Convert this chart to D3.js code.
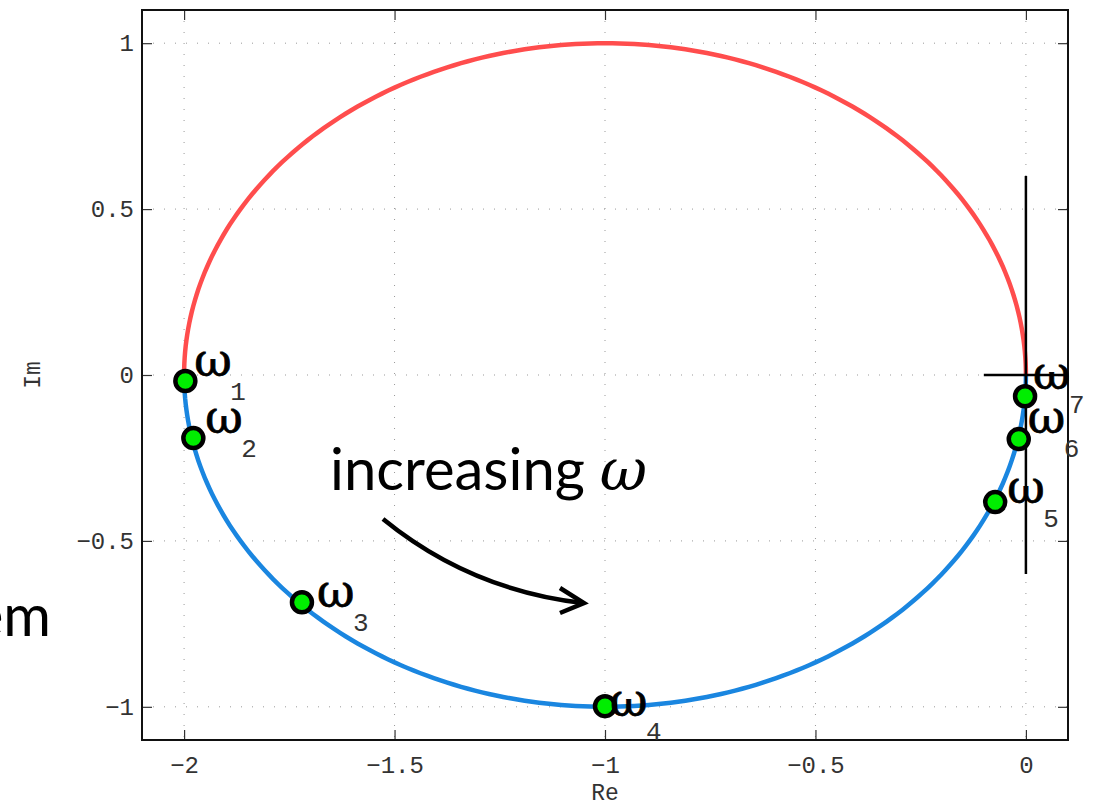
<!DOCTYPE html>
<html>
<head>
<meta charset="utf-8">
<script src="https://cdn.jsdelivr.net/npm/d3@7"></script>
<style>
  body { margin: 0; background: #fff; }
  svg { display: block; }
</style>
</head>
<body>
<div id="chart"></div>
<script>
// chart values
var xTicks = [-2, -1.5, -1, -0.5, 0];
var yTicks = [-1, -0.5, 0, 0.5, 1];
var xTickLabels = ["\u22122", "\u22121.5", "\u22121", "\u22120.5", "0"];
var yTickLabels = ["\u22121", "\u22120.5", "0", "0.5", "1"];

// frequency points on the Nyquist curve
var pointNames = ["1", "2", "3", "4", "5", "6", "7"];
var pointRe = [-1.997, -1.978, -1.72, -1.0, -0.073, -0.017, -0.002];
var pointIm = [-0.018, -0.19, -0.685, -0.998, -0.383, -0.193, -0.064];

// circle: centre -1, radius 1
var circleCenter = -1;
var circleRadius = 1;

var svgWidth = 1102;
var svgHeight = 809;

var margin = { top: 10, right: 34, bottom: 69, left: 142 };
var width = svgWidth - margin.left - margin.right;
var height = svgHeight - margin.top - margin.bottom;

// label placement relative to each point (pixels): omega and subscript
var labelOffsets = [
    { dx: 9, dy: -5 },
    { dx: 12, dy: -5 },
    { dx: 15, dy: 5 },
    { dx: 5, dy: 10 },
    { dx: 12, dy: 1 },
    { dx: 9, dy: -6 },
    { dx: 8, dy: -7 }
];

var svg = d3.select("#chart")
    .append("svg")
    .attr("width", svgWidth)
    .attr("height", svgHeight);

var chartGroup = svg.append("g")
    .attr("transform", `translate(${margin.left}, ${margin.top})`);

var xScale = d3.scaleLinear()
    .domain([-2.1, 0.1])
    .range([0, width]);

var yScale = d3.scaleLinear()
    .domain([-1.1, 1.1])
    .range([height, 0]);

var monoFont = "'Liberation Mono', 'DejaVu Sans Mono', monospace";

// grid
var grid = chartGroup.append("g");
grid.selectAll(".vgrid")
    .data(xTicks)
    .enter()
    .append("line")
    .attr("x1", d => xScale(d))
    .attr("x2", d => xScale(d))
    .attr("y1", 0)
    .attr("y2", height)
    .attr("stroke", "#999")
    .attr("stroke-width", 1)
    .attr("stroke-dasharray", "1,10");
grid.selectAll(".hgrid")
    .data(yTicks)
    .enter()
    .append("line")
    .attr("x1", 0)
    .attr("x2", width)
    .attr("y1", d => yScale(d))
    .attr("y2", d => yScale(d))
    .attr("stroke", "#999")
    .attr("stroke-width", 1)
    .attr("stroke-dasharray", "1,10");

// axes (ticks inward on all sides)
var bottomAxis = d3.axisBottom(xScale).tickValues(xTicks).tickSizeInner(-10).tickSizeOuter(0)
    .tickFormat((d, i) => xTickLabels[i]).tickPadding(16);
var leftAxis = d3.axisLeft(yScale).tickValues(yTicks).tickSizeInner(-10).tickSizeOuter(0)
    .tickFormat((d, i) => yTickLabels[i]).tickPadding(8);
var topAxis = d3.axisTop(xScale).tickValues(xTicks).tickSizeInner(-10).tickSizeOuter(0).tickFormat("");
var rightAxis = d3.axisRight(yScale).tickValues(yTicks).tickSizeInner(-10).tickSizeOuter(0).tickFormat("");

var axes = [
    chartGroup.append("g").attr("transform", `translate(0, ${height})`).call(bottomAxis),
    chartGroup.append("g").call(leftAxis),
    chartGroup.append("g").call(topAxis),
    chartGroup.append("g").attr("transform", `translate(${width}, 0)`).call(rightAxis)
];
axes.forEach(function (a) {
    a.select(".domain").remove();
    a.selectAll(".tick line").attr("stroke", "#333").attr("stroke-width", 1.2);
    a.selectAll("text")
        .style("font-family", monoFont)
        .style("font-size", "24px")
        .attr("fill", "#333");
});

// box
chartGroup.append("rect")
    .attr("x", 0)
    .attr("y", 0)
    .attr("width", width)
    .attr("height", height)
    .attr("fill", "none")
    .attr("stroke", "#111")
    .attr("stroke-width", 2);

// axis labels
chartGroup.append("text")
    .attr("x", xScale(-1))
    .attr("y", height + 60)
    .style("text-anchor", "middle")
    .style("font-family", monoFont)
    .style("font-size", "23px")
    .attr("fill", "#333")
    .text("Re");

chartGroup.append("text")
    .attr("transform", "rotate(-90)")
    .attr("x", -yScale(0))
    .attr("y", -margin.left + 40)
    .style("text-anchor", "middle")
    .style("font-family", monoFont)
    .style("font-size", "23px")
    .attr("fill", "#333")
    .text("Im");

// circle halves
var theta = d3.range(0, 181).map(d => d * Math.PI / 180);
var line = d3.line()
    .x(d => xScale(d[0]))
    .y(d => yScale(d[1]));

var upper = theta.map(t => [circleCenter + circleRadius * Math.cos(t), circleRadius * Math.sin(t)]);
var lower = theta.map(t => [circleCenter + circleRadius * Math.cos(t), -circleRadius * Math.sin(t)]);

chartGroup.append("path")
    .datum(upper)
    .attr("d", line)
    .attr("fill", "none")
    .attr("stroke", "#ff4d4d")
    .attr("stroke-width", 4.5);

chartGroup.append("path")
    .datum(lower)
    .attr("d", line)
    .attr("fill", "none")
    .attr("stroke", "#1a86e0")
    .attr("stroke-width", 4.5);

// cross at the origin
chartGroup.append("line")
    .attr("x1", xScale(0)).attr("x2", xScale(0))
    .attr("y1", yScale(0.6)).attr("y2", yScale(-0.6))
    .attr("stroke", "#000").attr("stroke-width", 2.5);
chartGroup.append("line")
    .attr("x1", xScale(-0.1)).attr("x2", xScale(0.1))
    .attr("y1", yScale(0)).attr("y2", yScale(0))
    .attr("stroke", "#000").attr("stroke-width", 2.5);

// points
var points = pointNames.map((n, i) => ({ name: n, re: pointRe[i], im: pointIm[i], off: labelOffsets[i] }));

chartGroup.selectAll(".pt")
    .data(points)
    .enter()
    .append("circle")
    .attr("cx", d => xScale(d.re))
    .attr("cy", d => yScale(d.im))
    .attr("r", 10)
    .attr("fill", "#00ee00")
    .attr("stroke", "#000")
    .attr("stroke-width", 4.5);

var labels = chartGroup.selectAll(".lbl")
    .data(points)
    .enter()
    .append("g")
    .attr("transform", d => `translate(${xScale(d.re) + d.off.dx}, ${yScale(d.im) + d.off.dy})`);

labels.append("text")
    .attr("x", 0)
    .attr("y", 0)
    .style("font-family", "'DejaVu Serif', serif")
    .style("font-size", "46px")
    .attr("fill", "#000")
    .attr("stroke", "#000")
    .attr("stroke-width", 0.8)
    .text("\u03c9");

labels.append("text")
    .attr("x", 36)
    .attr("y", 24)
    .style("font-family", monoFont)
    .style("font-size", "26px")
    .attr("fill", "#333")
    .text(d => d.name);

// annotation
svg.append("text")
    .attr("x", 330)
    .attr("y", 490)
    .style("font-family", "Lato, 'Open Sans', sans-serif")
    .style("font-size", "58px")
    .attr("fill", "#000")
    .text("increasing ")
    .append("tspan")
    .style("font-family", "'DejaVu Serif', serif")
    .style("font-style", "italic")
    .text("\u03c9");

svg.append("path")
    .attr("d", "M383,519 Q470,590 583,603")
    .attr("fill", "none")
    .attr("stroke", "#000")
    .attr("stroke-width", 4.5);
svg.append("path")
    .attr("d", "M560,588 L584,603 L560,613")
    .attr("fill", "none")
    .attr("stroke", "#000")
    .attr("stroke-width", 4.5);

svg.append("text")
    .attr("x", 51)
    .attr("y", 636)
    .style("text-anchor", "end")
    .style("font-family", "Lato, 'Open Sans', sans-serif")
    .style("font-size", "58px")
    .attr("fill", "#000")
    .text("em");
</script>
</body>
</html>
